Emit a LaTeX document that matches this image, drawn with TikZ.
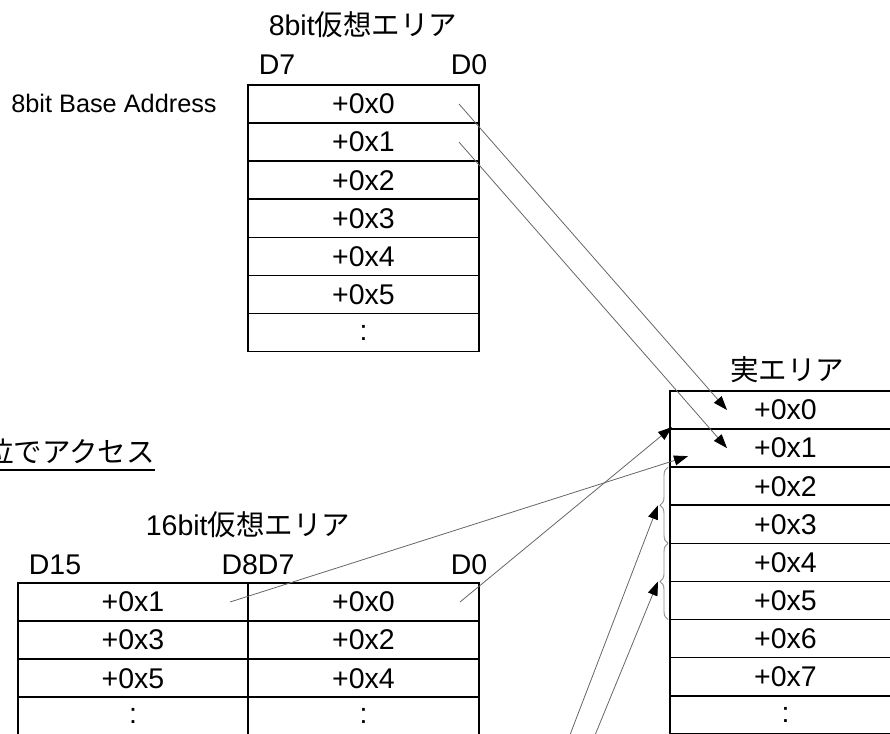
\documentclass[tikz,border=0pt]{standalone}
\usepackage{fontspec}
\setmainfont{Liberation Sans}
\newfontfamily\jp{Noto Sans CJK JP}
\usetikzlibrary{positioning,arrows.meta,decorations.pathreplacing}

\tikzset{
  cell/.style={draw,line width=1.6pt,minimum width=231pt,minimum height=38.1pt,inner sep=0pt,outer sep=0pt,font=\fontsize{28.5}{32}\selectfont},
  lbl/.style={inner sep=0pt,font=\fontsize{28.5}{32}\selectfont},
  map/.style={draw=black!60,line width=0.8pt,-{Triangle[length=14pt,width=10pt,black]}},
  grp/.style={draw=black!45,line width=0.9pt,decorate,decoration={brace,amplitude=8pt}}
}

\begin{document}
\begin{tikzpicture}[x=1pt,y=-1pt]
    \useasboundingbox (0,0) rectangle (890,733);

    % 8bit virtual area
    \node[lbl] at (363,25) (vtitle) {8bit{\jp 仮想エリア}};
    \node[lbl] at (277,65) (vd7) {D7};
    \node[lbl] at (469,65) (vd0) {D0};
    \node[lbl,font=\fontsize{25.3}{28}\selectfont] at (114,103) (base) {8bit Base Address};
    \node[cell] at (363.5,104) (v0) {+0x0};
    \node[cell,below=0pt of v0] (v1) {+0x1};
    \node[cell,below=0pt of v1] (v2) {+0x2};
    \node[cell,below=0pt of v2] (v3) {+0x3};
    \node[cell,below=0pt of v3] (v4) {+0x4};
    \node[cell,below=0pt of v4] (v5) {+0x5};
    \node[cell,below=0pt of v5] (v6) {:};

    % access label
    \node[lbl,anchor=base east,font=\fontsize{28.5}{32}\jp] at (155,462) (acc) {位でアクセス};
    \draw[line width=1.6pt] ([yshift=-8pt]acc.base west) -- ([yshift=-8pt]acc.base east);

    % 16bit virtual area
    \node[lbl] at (248,525) (wtitle) {16bit{\jp 仮想エリア}};
    \node[lbl] at (55,565) (wd15) {D15};
    \node[lbl] at (258,565) (wd8) {D8D7};
    \node[lbl] at (469,565) (wd0) {D0};
    \node[cell,minimum width=230pt] at (133,602) (w1) {+0x1};
    \node[cell] at (363.5,602) (w0) {+0x0};
    \node[cell,minimum width=230pt,below=0pt of w1] (w3) {+0x3};
    \node[cell,below=0pt of w0] (w2) {+0x2};
    \node[cell,minimum width=230pt,below=0pt of w3] (w5) {+0x5};
    \node[cell,below=0pt of w2] (w4) {+0x4};
    \node[cell,minimum width=230pt,below=0pt of w5] (wl) {:};
    \node[cell,below=0pt of w4] (wr) {:};

    % real area
    \node[lbl,font=\fontsize{28.5}{32}\jp] at (787,370) (rtitle) {実エリア};
    \node[cell] at (785.5,410) (r0) {+0x0};
    \node[cell,below=0pt of r0] (r1) {+0x1};
    \node[cell,below=0pt of r1] (r2) {+0x2};
    \node[cell,below=0pt of r2] (r3) {+0x3};
    \node[cell,below=0pt of r3] (r4) {+0x4};
    \node[cell,below=0pt of r4] (r5) {+0x5};
    \node[cell,below=0pt of r5] (r6) {+0x6};
    \node[cell,below=0pt of r6] (r7) {+0x7};
    \node[cell,below=0pt of r7] (r8) {:};

    % braces
    \draw[grp] ([xshift=-2pt]r3.south west) -- ([xshift=-2pt]r2.north west);
    \draw[grp] ([xshift=-2pt]r5.south west) -- ([xshift=-2pt]r4.north west);
    \coordinate (b0) at ([xshift=-12pt]r2.south west);
    \coordinate (b1) at ([xshift=-12pt]r4.south west);
    \coordinate (s0) at (568,740);
    \coordinate (s1) at (593,740);

    % mappings
    \draw[map] ([xshift=-20pt]v0.east) -- ([xshift=57pt]r0.west);
    \draw[map] ([xshift=-20pt]v1.east) -- ([xshift=57pt]r1.west);
    \draw[map] ([xshift=-19pt]w0.east) -- ([shift={(2pt,2pt)}]r0.south west);
    \draw[map] ([xshift=-18pt]w1.east) -- ([shift={(18pt,11pt)}]r1.south west);
    \draw[map] (s0) -- (b0);
    \draw[map] (s1) -- (b1);
\end{tikzpicture}
\end{document}
